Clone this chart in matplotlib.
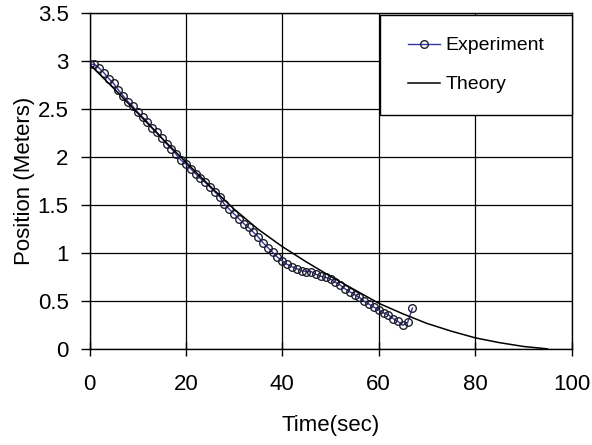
import numpy as np
import matplotlib
matplotlib.use("Agg")
import matplotlib.pyplot as plt
from matplotlib.patches import Rectangle

# experiment: position read every second
t_exp = list(range(0, 68))
x_exp = [2.97, 2.97, 2.93, 2.88, 2.82, 2.77, 2.70, 2.64, 2.58, 2.53,
         2.47, 2.42, 2.37, 2.31, 2.26, 2.20, 2.14, 2.09, 2.03, 1.97,
         1.93, 1.88, 1.83, 1.78, 1.74, 1.69, 1.64, 1.59, 1.51, 1.46,
         1.41, 1.36, 1.31, 1.27, 1.22, 1.17, 1.11, 1.06, 1.01, 0.96,
         0.92, 0.885, 0.86, 0.84, 0.82, 0.81, 0.81, 0.78, 0.76, 0.75,
         0.73, 0.70, 0.67, 0.63, 0.60, 0.57, 0.54, 0.50, 0.47, 0.44,
         0.41, 0.38, 0.36, 0.32, 0.29, 0.25, 0.28, 0.43]

# theory curve
t_th = [0, 5, 10, 15, 20, 25, 30, 35, 40, 45, 50, 55, 60, 65, 70, 75, 80, 85, 90, 95]
x_th = [2.97, 2.72, 2.46, 2.20, 1.95, 1.70, 1.46, 1.25, 1.07, 0.91,
        0.76, 0.62, 0.48, 0.37, 0.27, 0.19, 0.12, 0.07, 0.03, 0.005]

xticks = [0, 20, 40, 60, 80, 100]
yticks = [0, 0.5, 1, 1.5, 2, 2.5, 3, 3.5]

plt.rcParams['font.family'] = ['Liberation Sans', 'DejaVu Sans']
fs = 16

fig = plt.figure(figsize=(5.92, 4.45), dpi=100)
ax = fig.add_axes([0.1512, 0.215, 0.8142, 0.755])

ax.plot(t_exp, x_exp, color='#3333aa', lw=1.0, marker='o', ms=5.5,
        mfc='none', mec='#202030', mew=1.0, label='Experiment', zorder=3)
ax.plot(t_th, x_th, color='black', lw=1.1, label='Theory', zorder=4)

ax.set_xlim(0, 100)
ax.set_ylim(0, 3.5)
ax.set_xticks(xticks)
ax.set_yticks(yticks)
ax.set_yticklabels(['0', '0.5', '1', '1.5', '2', '2.5', '3', '3.5'])
ax.grid(True, color='black', lw=0.9)
ax.set_axisbelow(True)
for s in ax.spines.values():
    s.set_color('black')
    s.set_linewidth(1.0)

ax.tick_params(axis='y', direction='out', length=6.5, width=1, pad=8.5, labelsize=fs)
ax.tick_params(axis='x', direction='inout', length=10, width=1, pad=12.5, labelsize=fs)

ax.set_xlabel('Time(sec)', fontsize=fs, labelpad=15)
ax.set_ylabel('Position (Meters)', fontsize=fs, labelpad=2)

# legend box
ax.add_patch(Rectangle((0.603, 0.697), 0.397, 0.298, transform=ax.transAxes,
                       facecolor='white', edgecolor='black', lw=1.0,
                       zorder=5, clip_on=False))
leg = ax.legend(loc='center', bbox_to_anchor=(0.802, 0.846), frameon=False,
                fontsize=14, handlelength=1.65, handletextpad=0.3,
                labelspacing=1.1, borderpad=0)
leg.set_zorder(6)

fig.savefig('out.png', dpi=100)
